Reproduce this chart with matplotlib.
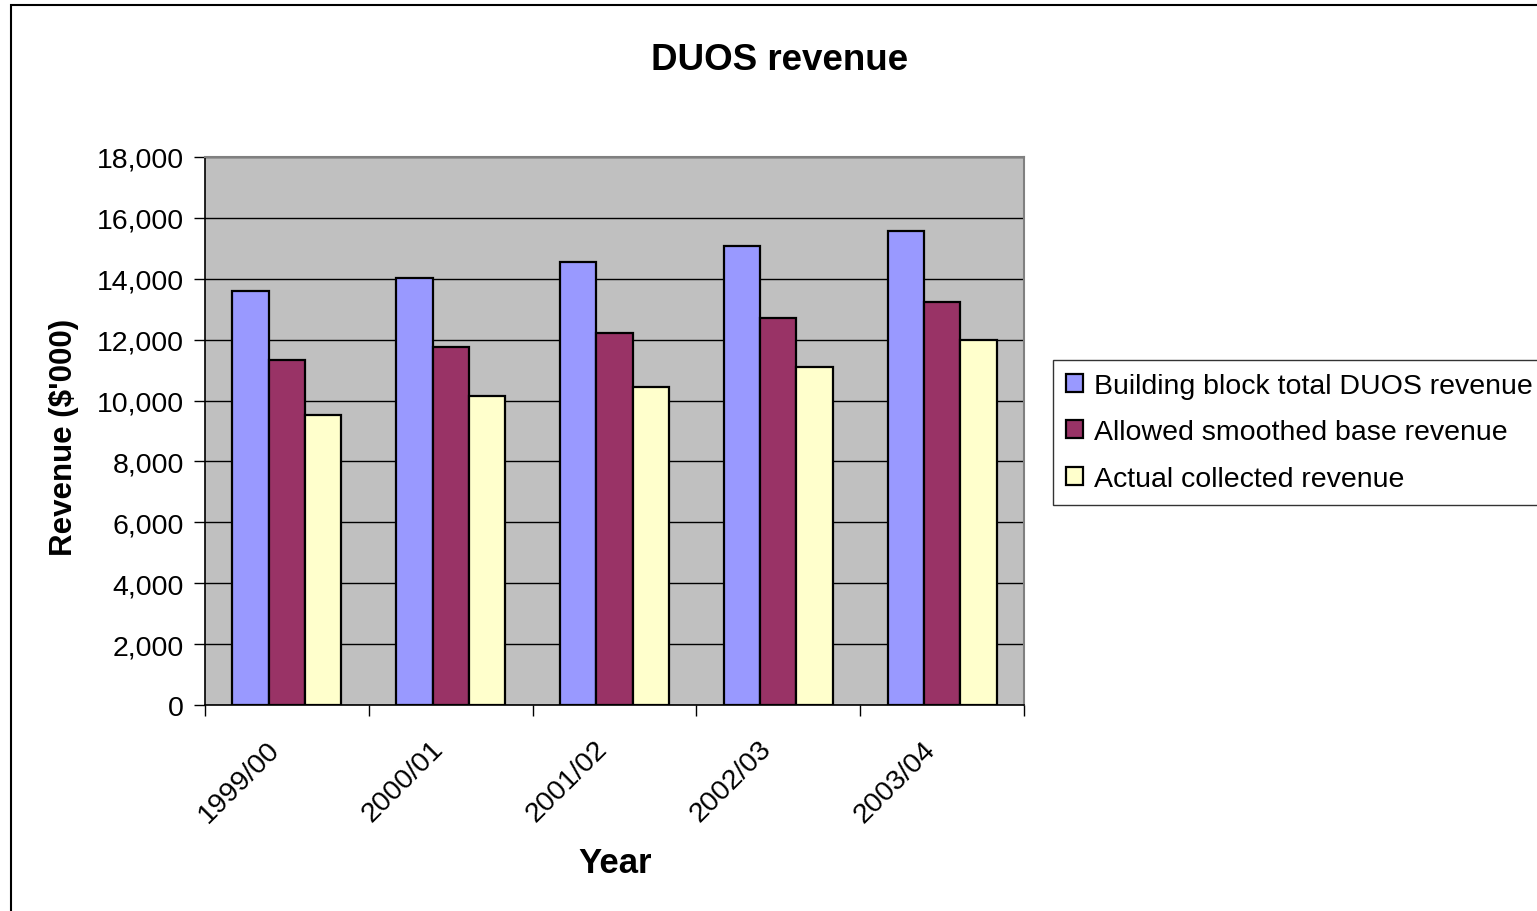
import numpy as np
import matplotlib.pyplot as plt
import matplotlib.transforms as mtransforms
from matplotlib.patches import Rectangle

plt.rcParams['font.family'] = ['Liberation Sans', 'DejaVu Sans']

years = ['1999/00', '2000/01', '2001/02', '2002/03', '2003/04']
building_block = [13600, 14030, 14550, 15080, 15570]
allowed_smoothed = [11330, 11760, 12220, 12710, 13240]
actual_collected = [9530, 10150, 10450, 11100, 11990]

series = [
    ('Building block total DUOS revenue', building_block, '#9999FF'),
    ('Allowed smoothed base revenue', allowed_smoothed, '#993366'),
    ('Actual collected revenue', actual_collected, '#FFFFCC'),
]

W, H = 1537, 912
fig = plt.figure(figsize=(W / 100, H / 100), dpi=100)
ax = fig.add_axes([205 / W, 1 - 706 / H, 819 / W, 548 / H])
ax.set_facecolor('#C0C0C0')

x = np.arange(len(years))
w = 0.222
for i, (name, vals, col) in enumerate(series):
    ax.bar(x + (i - 1) * w, vals, w, color=col, edgecolor='black',
           linewidth=1.6, label=name, zorder=3)

ax.set_xlim(-0.5, len(years) - 0.5)
ax.set_ylim(0, 18000)
ax.set_yticks(np.arange(0, 18001, 2000))
ax.set_yticklabels([f'{v:,}' for v in range(0, 18001, 2000)], fontsize=20.5)
ax.yaxis.grid(True, color='black', linewidth=1, zorder=1)

# category ticks sit between groups, labels at group centres
ax.set_xticks(np.arange(-0.5, len(years), 1.0))
ax.set_xticklabels([])
ax.set_xticks(x, minor=True)
ax.set_xticklabels(years, minor=True, rotation=45, ha='right',
                   rotation_mode='anchor', fontsize=20.5)
ax.tick_params(axis='x', which='minor', length=0, pad=22)
ax.tick_params(axis='x', which='major', length=8, width=1, direction='out')
ax.tick_params(axis='y', length=8, width=1, direction='out', pad=7)

shift = mtransforms.ScaledTranslation(-20 / 100, 0, fig.dpi_scale_trans)
for lab in ax.get_xticklabels(minor=True):
    lab.set_transform(lab.get_transform() + shift)

for s in ['top', 'right']:
    ax.spines[s].set_color('#808080')
    ax.spines[s].set_linewidth(1.5)
for s in ['left', 'bottom']:
    ax.spines[s].set_color('black')
    ax.spines[s].set_linewidth(1.2)

fig.text(780 / W, 1 - 61 / H, 'DUOS revenue', fontsize=26.5, fontweight='bold',
         ha='center', va='center')
fig.text(615 / W, 1 - 864 / H, 'Year', fontsize=25, fontweight='bold',
         ha='center', va='center')
fig.text(64 / W, 1 - 437 / H, "Revenue ($'000)", fontsize=22.5,
         fontweight='bold', ha='center', va='center', rotation=90)

leg = fig.legend(loc='upper left', bbox_to_anchor=(1053 / W, 1 - 361 / H),
                 fontsize=20.5, frameon=True, fancybox=False, edgecolor='black',
                 handlelength=0.6, handleheight=0.6, handletextpad=0.4,
                 labelspacing=0.72, borderpad=0.45, borderaxespad=0)
leg.get_frame().set_linewidth(1)

fig.patches.append(Rectangle((11 / W, -0.01), 1.2, 1 - 6 / H + 0.01,
                             transform=fig.transFigure, fill=False,
                             edgecolor='black', linewidth=1.5))

fig.savefig('out.png', dpi=100)
